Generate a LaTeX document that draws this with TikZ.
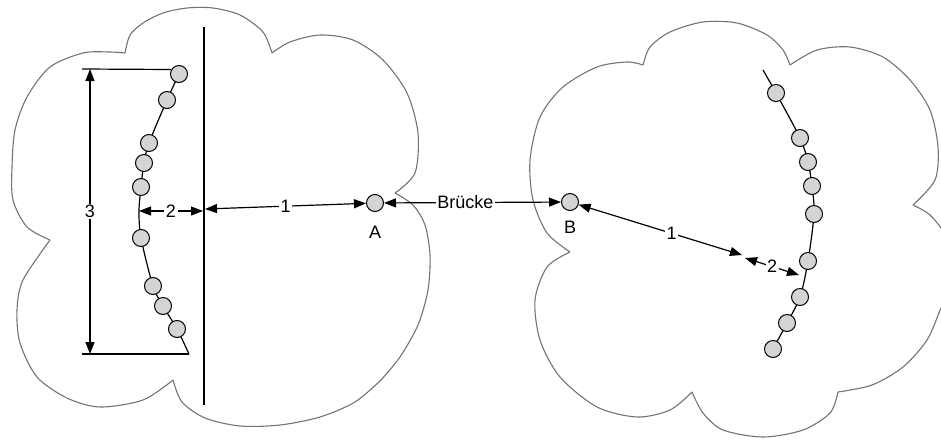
\documentclass[tikz,border=0pt]{standalone}
\usepackage{fontspec}
\setmainfont{Liberation Sans}
\usetikzlibrary{arrows.meta}
\usetikzlibrary{positioning}
\pgfdeclarelayer{back}
\pgfsetlayers{back,main}

\tikzset{
	cloudline/.style={draw=black!55, line width=1.1pt},
	bead/.style={circle, draw, line width=1pt, fill=black!17, minimum size=17pt, inner sep=0pt},
	wire/.style={line width=1.2pt},
	dim/.style={line width=1.2pt, {Triangle[length=12pt,width=9pt]}-{Triangle[length=12pt,width=9pt]}},
	lbl/.style={font=\fontsize{18}{21}\selectfont, fill=white, inner sep=1.5pt},
	ptlabel/.style={font=\fontsize{18}{21}\selectfont}
}

\begin{document}
\begin{tikzpicture}[x=1pt,y=-1pt]

	\clip (0,0) rectangle (941,439);

	% left cloud
	\draw[cloudline] plot[smooth] coordinates {(125,53) (130,35) (143,23) (163,13) (187,8) (213,8) (240,15) (263,32) (272,53)};
	\draw[cloudline] plot[smooth] coordinates {(272,53) (290,42) (320,35) (353,40) (383,60) (407,93) (418,133) (415,173) (395,193)};
	\draw[cloudline] plot[smooth] coordinates {(395,193) (413,205) (425,225) (430,255) (428,290) (418,325) (400,357) (381,380)};
	\draw[cloudline] plot[smooth] coordinates {(381,380) (355,402) (320,417) (280,425) (240,426) (205,418) (182,402) (173,380)};
	\draw[cloudline] plot[smooth] coordinates {(173,380) (143,400) (100,407) (67,398) (37,377) (20,343) (17,310) (23,280) (50,240)};
	\draw[cloudline] plot[smooth] coordinates {(50,240) (27,227) (13,200) (12,167) (15,130) (27,97) (50,67) (83,53) (110,52) (125,53)};

	% right cloud
	\draw[cloudline] plot[smooth] coordinates {(643,65) (650,47) (670,32) (703,22) (737,23) (767,35) (783,50) (790,65)};
	\draw[cloudline] plot[smooth] coordinates {(790,65) (817,50) (850,47) (883,57) (910,80) (930,110) (938,147) (935,180) (913,205)};
	\draw[cloudline] plot[smooth] coordinates {(913,205) (930,215) (945,235) (953,265) (950,290) (941,308) (927,340) (903,367) (872,385) (838,392)};
	\draw[cloudline] plot[smooth] coordinates {(838,392) (830,413) (803,430) (763,437) (723,430) (703,413) (692,392)};
	\draw[cloudline] plot[smooth] coordinates {(692,392) (670,410) (637,417) (597,407) (560,377) (540,340) (535,300) (547,267) (570,252)};
	\draw[cloudline] plot[smooth] coordinates {(570,252) (547,233) (533,200) (530,160) (540,117) (563,87) (597,67) (627,62) (643,65)};

	% left chain
	\foreach \n/\x/\y in {1/179/74, 2/167/100, 3/149/143, 4/144/163, 5/141/187, 6/141/238, 7/153/286, 8/163/306, 9/177/329}
		\node[bead] (l\n) at (\x,\y) {};
	\coordinate (lmid) at (139,211);
	\coordinate (lend) at (189,354);
	\begin{pgfonlayer}{back}
		\draw[wire] plot[smooth] coordinates {(l1.center) (l2.center) (l3.center) (l4.center) (l5.center) (lmid) (l6.center) (l7.center) (l8.center) (l9.center) (lend)};
	\end{pgfonlayer}

	\coordinate (walltop) at (204,27);
	\coordinate (wallbot) at (204,405);
	\draw[wire] (walltop) -- (wallbot);

	\coordinate (dtop) at (82,69);
	\coordinate (dbot) at (82,354);
	\draw[wire] (dtop) -- (l1.150);
	\draw[wire] (dbot) -- (lend);
	\draw[dim] (90,69) -- (90,354) node[lbl, midway] {3};
	\draw[dim] (lmid) -- (203,211) node[lbl, midway] {2};

	% bridge
	\node[bead] (A) at (375,203) {};
	\node[bead] (B) at (570,202) {};
	\node[ptlabel, below=11pt of A] {A};
	\node[ptlabel, below=7pt of B] {B};
	\draw[dim] (205,209) -- (A) node[lbl, midway] {1};
	\draw[dim] (A) -- (B) node[lbl, pos=0.46] {Brücke};

	% right chain
	\foreach \n/\x/\y in {1/776/93, 2/800/138, 3/808/162, 4/812/186, 5/814/214, 6/808/261, 7/800/297, 8/787/323, 9/773/349}
		\node[bead] (r\n) at (\x,\y) {};
	\coordinate (rtop) at (763,70);
	\begin{pgfonlayer}{back}
		\draw[wire] plot[smooth] coordinates {(rtop) (r1.center) (r2.center) (r3.center) (r4.center) (r5.center) (r6.center) (r7.center) (r8.center) (r9.center)};
	\end{pgfonlayer}

	\coordinate (gapl) at (742,255);
	\coordinate (gapr) at (745,258);
	\coordinate (rtip) at (799,275);
	\draw[dim] (B) -- (gapl) node[lbl, pos=0.57] {1};
	\draw[dim] (gapr) -- (rtip) node[lbl, midway] {2};

\end{tikzpicture}
\end{document}
